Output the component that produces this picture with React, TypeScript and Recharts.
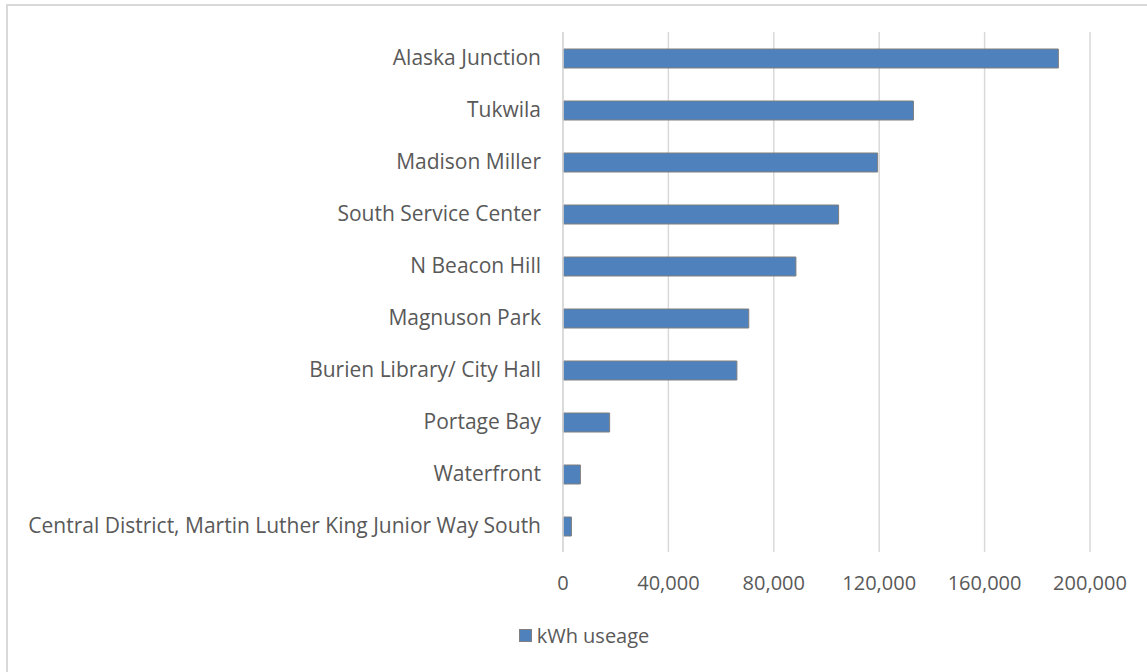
import { BarChart, Bar, XAxis, YAxis, CartesianGrid, Legend } from 'recharts'

// kWh usage by site, top of chart first
const sites = [
  'Alaska Junction',
  'Tukwila',
  'Madison Miller',
  'South Service Center',
  'N Beacon Hill',
  'Magnuson Park',
  'Burien Library/ City Hall',
  'Portage Bay',
  'Waterfront',
  'Central District, Martin Luther King Junior Way South',
]
const kwhUseage = [188000, 133000, 119400, 104600, 88400, 70500, 66000, 17700, 6600, 3200]
const xTicks = [0, 40000, 80000, 120000, 160000, 200000]

const data = sites.map((site, i) => ({ site, kwh: kwhUseage[i] }))

const FONT = '"Open Sans", sans-serif'
const TEXT = '#595959'
const BLUE = '#4f81bd'

const LegendContent = () => (
  <div style={{ display: 'flex', justifyContent: 'center', alignItems: 'center', fontFamily: FONT, fontSize: 20, color: TEXT, paddingLeft: 78 }}>
    <span style={{ width: 13, height: 13, background: BLUE, border: '1px solid #7f7f7f', boxSizing: 'border-box', marginRight: 5, display: 'inline-block' }}></span>
    <span>kWh useage</span>
  </div>
)

export default function App() {
  return (
    <div style={{ position: 'absolute', left: 0, top: 0, width: 1147, height: 672, background: '#fff', overflow: 'hidden' }}>
      <div style={{ position: 'absolute', left: 6, top: 4, width: 1160, height: 700, border: '2px solid #d9d9d9', boxSizing: 'border-box' }}></div>
      <BarChart
        width={1147}
        height={672}
        data={data}
        layout="vertical"
        margin={{ top: 32, right: 57, left: 0, bottom: 20 }}
        barSize={19}
      >
        <CartesianGrid horizontal={false} vertical={true} stroke="#d9d9d9" strokeWidth={1.5} />
        <XAxis
          type="number"
          domain={[0, 200000]}
          ticks={xTicks}
          axisLine={false}
          tickLine={false}
          tickMargin={18}
          height={70}
          tick={{ fill: TEXT, fontSize: 20, fontFamily: FONT }}
          tickFormatter={(v) => v.toLocaleString('en-US')}
        />
        <YAxis
          type="category"
          dataKey="site"
          width={563}
          axisLine={{ stroke: '#d9d9d9', strokeWidth: 1.5 }}
          tickLine={false}
          tickMargin={16}
          interval={0}
          tick={{ fill: TEXT, fontSize: 21, fontFamily: FONT }}
        />
        <Legend verticalAlign="bottom" height={30} content={<LegendContent />} />
        <Bar dataKey="kwh" name="kWh useage" fill={BLUE} stroke="#7f7f7f" strokeWidth={1} isAnimationActive={false} />
      </BarChart>
    </div>
  )
}
